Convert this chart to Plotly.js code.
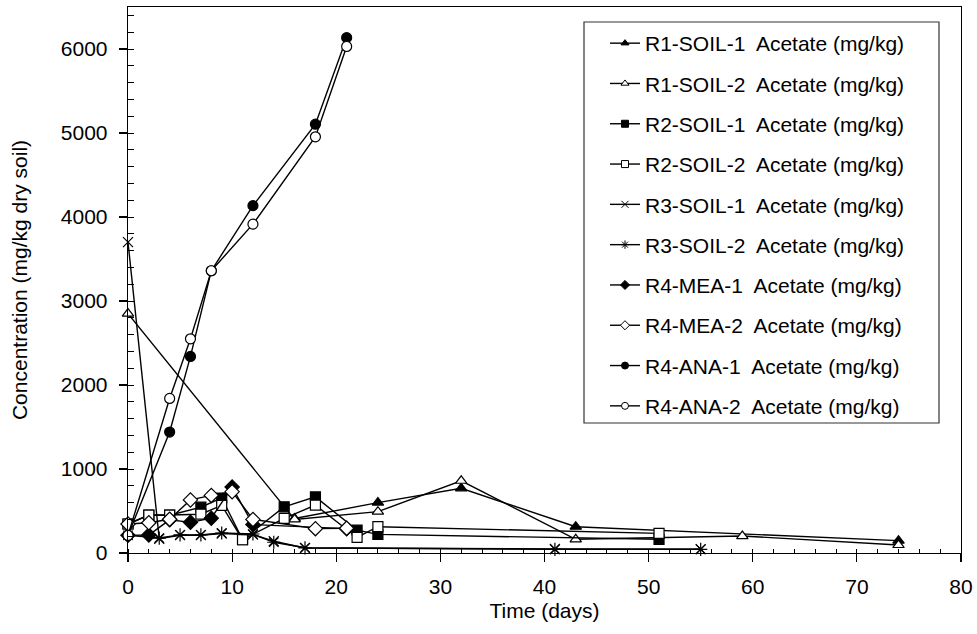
<!DOCTYPE html>
<html>
<head>
<meta charset="utf-8">
<script src="https://cdn.plot.ly/plotly-3.0.1.min.js"></script>
<style>html,body{margin:0;padding:0;background:#fff;}#chart{width:977px;height:634px;}</style>
</head>
<body>
<div id="chart"></div>
<script>
// Data
const seriesNames = [
  "R1-SOIL-1  Acetate (mg/kg)", "R1-SOIL-2  Acetate (mg/kg)",
  "R2-SOIL-1  Acetate (mg/kg)", "R2-SOIL-2  Acetate (mg/kg)",
  "R3-SOIL-1  Acetate (mg/kg)", "R3-SOIL-2  Acetate (mg/kg)",
  "R4-MEA-1  Acetate (mg/kg)", "R4-MEA-2  Acetate (mg/kg)",
  "R4-ANA-1  Acetate (mg/kg)", "R4-ANA-2  Acetate (mg/kg)"
];
const r1s1Days = [16, 24, 32, 43, 74];
const r1s1Vals = [410, 600, 770, 313, 147];
const r1s2Days = [0, 16, 24, 32, 43, 59, 74];
const r1s2Vals = [2850, 400, 492, 860, 163, 202, 95];
const r2Days = [0, 2, 4, 7, 9, 11, 15, 18, 22, 24, 51];
const r2s1Vals = [345, 450, 450, 545, 655, 160, 550, 668, 272, 222, 163];
const r2s2Vals = [345, 452, 452, 462, 568, 158, 413, 570, 185, 313, 234];
const r3Days = [0, 3, 5, 7, 9, 12, 14, 17, 41, 55];
const r3s1Vals = [3700, 170, 212, 212, 232, 218, 140, 60, 48, 46];
const r3s2Vals = [210, 178, 216, 216, 238, 226, 128, 62, 44, 44];
const r4m1Days = [0, 2, 4, 6, 8, 10, 12, 21];
const r4m1Vals = [210, 214, 395, 365, 415, 785, 338, 290];
const r4m2Days = [0, 2, 4, 6, 8, 10, 12, 18, 21];
const r4m2Vals = [345, 360, 402, 632, 686, 730, 400, 290, 295];
const r4aDays = [0, 4, 6, 8, 12, 18, 21];
const r4a1Vals = [210, 1440, 2340, 3360, 4135, 5105, 6135];
const r4a2Vals = [210, 1840, 2550, 3360, 3915, 4955, 6030];
const xTickVals = [0, 10, 20, 30, 40, 50, 60, 70, 80];
const yTickVals = [0, 1000, 2000, 3000, 4000, 5000, 6000];

const FONT = "Liberation Sans, Arial, sans-serif";
const FS = 21;
const LW = 1.4;

const styles = [
  {symbol: "triangle-up", fill: "#000", size: 10},
  {symbol: "triangle-up", fill: "#fff", size: 10},
  {symbol: "square", fill: "#000", size: 10},
  {symbol: "square", fill: "#fff", size: 10},
  {symbol: "x-thin-open", fill: "#000", size: 10},
  {symbol: "asterisk-open", fill: "#000", size: 11},
  {symbol: "diamond", fill: "#000", size: 11},
  {symbol: "diamond", fill: "#fff", size: 11},
  {symbol: "circle", fill: "#000", size: 10},
  {symbol: "circle", fill: "#fff", size: 10}
];
const xs = [r1s1Days, r1s2Days, r2Days, r2Days, r3Days, r3Days, r4m1Days, r4m2Days, r4aDays, r4aDays];
const ys = [r1s1Vals, r1s2Vals, r2s1Vals, r2s2Vals, r3s1Vals, r3s2Vals, r4m1Vals, r4m2Vals, r4a1Vals, r4a2Vals];

const traces = [];
for (let i = 0; i < seriesNames.length; i++) {
  const st = styles[i];
  traces.push({
    x: xs[i], y: ys[i], type: "scatter", mode: "lines+markers",
    name: seriesNames[i], showlegend: false,
    line: {color: "#000", width: LW},
    marker: {symbol: st.symbol, size: st.size, color: st.fill,
             line: {color: "#000", width: 1.2}},
    cliponaxis: false
  });
}
// legend entries (smaller symbols, as in the reference legend)
for (let i = 0; i < seriesNames.length; i++) {
  const st = styles[i];
  traces.push({
    x: [null], y: [null], type: "scatter", mode: "lines+markers",
    name: seriesNames[i], legendgroup: "g" + i, showlegend: true,
    line: {color: "#000", width: LW},
    marker: {symbol: st.symbol, size: 7, color: st.fill,
             line: {color: "#000", width: 1}}
  });
}

const L = 128, R = 961, T = 7, B = 553;
const W = 977, H = 634;
const pw = R - L, ph = B - T;

const layout = {
  width: W, height: H,
  margin: {l: L, r: W - R, t: T, b: H - B},
  paper_bgcolor: "#fff", plot_bgcolor: "#fff",
  font: {family: FONT, size: FS, color: "#000"},
  showlegend: true,
  xaxis: {
    range: [0, 80], tickvals: xTickVals, ticktext: xTickVals.map(String),
    showgrid: false, zeroline: false,
    showline: true, linecolor: "#000", linewidth: 1.3, mirror: true,
    ticks: "outside", ticklen: 8, tickwidth: 1.2, tickcolor: "#000",
    ticklabelstandoff: 6,
    minor: {dtick: 2, ticks: "inside", ticklen: 4, tickwidth: 1, tickcolor: "#000", showgrid: false},
    tickfont: {family: FONT, size: FS},
    title: {text: "Time (days)", font: {family: FONT, size: FS}, standoff: 6}
  },
  yaxis: {
    range: [0, 6500], tickvals: yTickVals, ticktext: yTickVals.map(String),
    showgrid: false, zeroline: false,
    showline: true, linecolor: "#000", linewidth: 1.3, mirror: true,
    ticks: "outside", ticklen: 8, tickwidth: 1.2, tickcolor: "#000",
    ticklabelstandoff: 7,
    minor: {dtick: 200, ticks: "inside", ticklen: 6, tickwidth: 1, tickcolor: "#000", showgrid: false},
    tickfont: {family: FONT, size: FS},
    title: {text: "Concentration (mg/kg dry soil)", font: {family: FONT, size: FS}, standoff: 27}
  },
  legend: {
    x: (605 - L) / pw, y: (B - 23) / ph, xanchor: "left", yanchor: "top",
    bgcolor: "rgba(255,255,255,0)", borderwidth: 0,
    font: {family: FONT, size: FS, color: "#000"},
    tracegroupgap: 10, itemsizing: "trace", traceorder: "grouped"
  },
  shapes: [{
    type: "rect", xref: "paper", yref: "paper",
    x0: (584 - L) / pw, x1: (939 - L) / pw,
    y0: (B - 423) / ph, y1: (B - 22) / ph,
    line: {color: "#333", width: 1.2}, fillcolor: "#fff", layer: "below"
  }]
};

Plotly.newPlot("chart", traces, layout, {staticPlot: true, displayModeBar: false});
</script>
</body>
</html>
